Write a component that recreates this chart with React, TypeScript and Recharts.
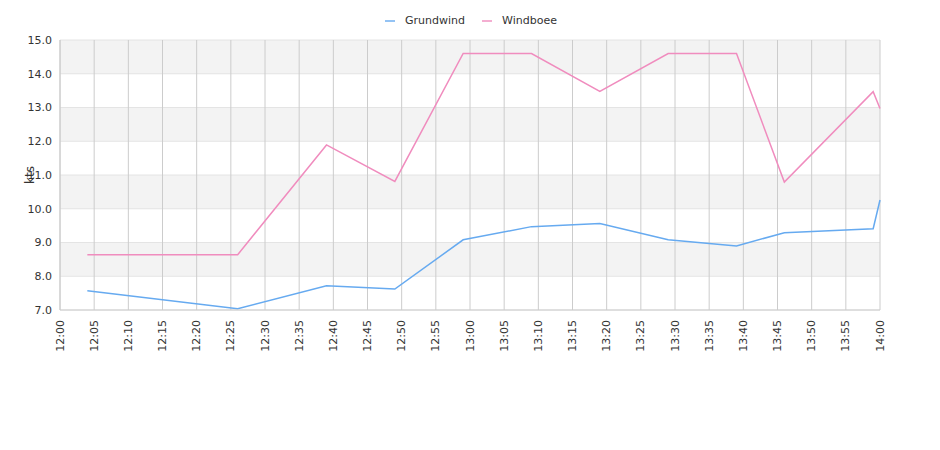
import React from "react";
import {
  LineChart,
  Line,
  XAxis,
  YAxis,
  CartesianGrid,
  Legend,
} from "recharts";

// minutes after 12:00
const times = [4, 26, 39, 49, 59, 69, 79, 89, 99, 106, 119, 120];
const grundwind = [7.57, 7.04, 7.72, 7.62, 9.08, 9.47, 9.56, 9.08, 8.9, 9.29, 9.41, 10.26];
const windboee = [8.64, 8.64, 11.89, 10.81, 14.6, 14.6, 13.48, 14.6, 14.6, 10.79, 13.47, 12.97];
const xTicks = Array.from({ length: 25 }, (_, i) => i * 5);
const yTicks = [7, 8, 9, 10, 11, 12, 13, 14, 15];

const data = times.map((t, i) => ({
  t,
  grundwind: grundwind[i],
  windboee: windboee[i],
}));

const font = "'DejaVu Sans', sans-serif";
const BLUE = "#66aaf0";
const PINK = "#f08cbe";

function fmtTime(m: number) {
  const h = 12 + Math.floor(m / 60);
  const mm = m % 60;
  return `${h}:${mm < 10 ? "0" + mm : mm}`;
}

function TimeTick({ x, y, payload }: any) {
  return (
    <text
      x={0}
      y={0}
      transform={`translate(${x},${y + 2}) rotate(-90)`}
      textAnchor="end"
      dominantBaseline="central"
      fontSize={11}
      fontFamily={font}
      fill="#333"
    >
      {fmtTime(payload.value)}
    </text>
  );
}

function KtsLabel({ viewBox }: any) {
  const cx = viewBox.x + 10;
  const cy = viewBox.y + viewBox.height / 2;
  return (
    <text
      x={0}
      y={0}
      transform={`translate(${cx},${cy}) rotate(-90)`}
      textAnchor="middle"
      dominantBaseline="central"
      fontSize={12}
      fontFamily={font}
      fill="#333"
    >
      kts
    </text>
  );
}

function ChartLegend({ payload }: any) {
  return (
    <div
      style={{
        display: "flex",
        justifyContent: "center",
        gap: 17,
        fontSize: 11,
        fontFamily: font,
        color: "#333",
        lineHeight: "13px",
        paddingLeft: 2,
      }}
    >
      {(payload || []).map((p: any) => (
        <span key={p.value} style={{ display: "flex", alignItems: "center" }}>
          <span
            style={{
              display: "inline-block",
              width: 10,
              height: 2,
              background: p.color,
              opacity: 0.7,
              marginRight: 10,
            }}
          />
          {p.value}
        </span>
      ))}
    </div>
  );
}

export default function App() {
  return (
    <div style={{ position: "absolute", left: 0, top: 0, background: "#fff" }}>
      <LineChart
        width={940}
        height={450}
        data={data}
        margin={{ top: 27, right: 60, bottom: 90, left: 20 }}
      >
        <CartesianGrid
          vertical={false}
          stroke="#e4e4e4"
          horizontalFill={["#f3f3f3", "#ffffff"]}
        />
        <CartesianGrid horizontal={false} stroke="#cccccc" />
        <XAxis
          dataKey="t"
          type="number"
          domain={[0, 120]}
          ticks={xTicks}
          interval={0}
          tick={<TimeTick />}
          tickLine={false}
          axisLine={{ stroke: "#cccccc" }}
          height={50}
        />
        <YAxis
          domain={[7, 15]}
          ticks={yTicks}
          interval={0}
          tickFormatter={(v: number) => v.toFixed(1)}
          tick={{ fontSize: 11, fontFamily: font, fill: "#333" }}
          tickLine={false}
          axisLine={{ stroke: "#cccccc" }}
          width={40}
          label={<KtsLabel />}
        />
        <Legend
          verticalAlign="top"
          align="center"
          height={13}
          content={<ChartLegend />}
          wrapperStyle={{ top: 14, left: 0, width: 940 }}
        />
        <Line
          type="linear"
          dataKey="grundwind"
          name="Grundwind"
          stroke={BLUE}
          strokeWidth={1.5}
          dot={false}
          isAnimationActive={false}
        />
        <Line
          type="linear"
          dataKey="windboee"
          name="Windboee"
          stroke={PINK}
          strokeWidth={1.5}
          dot={false}
          isAnimationActive={false}
        />
      </LineChart>
    </div>
  );
}
